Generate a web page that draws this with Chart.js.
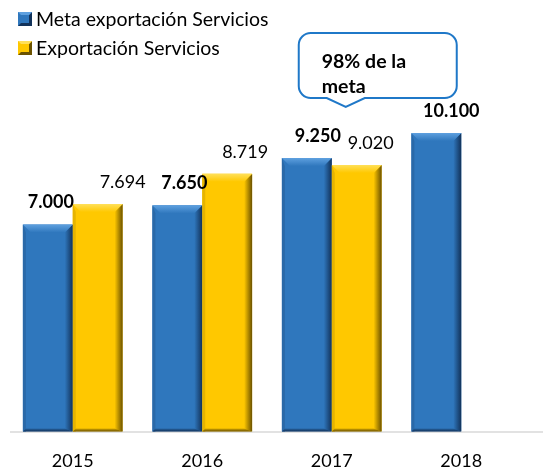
<!DOCTYPE html>
<html>
<head>
<meta charset="utf-8">
<script src="https://cdn.jsdelivr.net/npm/chart.js@4"></script>
<style>
  body { margin: 0; background: #fff; }
  #wrap { width: 543px; height: 470px; }
</style>
</head>
<body>
<div id="wrap"><canvas id="chart" width="543" height="470"></canvas></div>
<script>
// Data
const years = ['2015', '2016', '2017', '2018'];
const metaValues = [7000, 7650, 9250, 10100];
const exportValues = [7694, 8719, 9020, null];
const seriesNames = ['Meta exportación Servicios', 'Exportación Servicios'];
const calloutLines = ['98% de la', 'meta'];

const FONT = 'Lato, "Open Sans", sans-serif';
// horizontal nudge of each value label, as placed in the original
const labelShift = [[3, 7, 11, 15], [25, 18, 14, 0]];

// 7000 -> "7.000"
function fmt(v) {
    return String(v).replace(/\B(?=(\d{3})+(?!\d))/g, '.');
}

const palette = [
    { face: '#2f77bd', light: '#5ea0df', dark: '#12325a', left: '#2a69a8' },
    { face: '#ffc800', light: '#ffe05a', dark: '#6b5200', left: '#e6b400' }
];

// bevel look of the bars
const bevelPlugin = {
    id: 'bevel',
    afterDatasetsDraw(chart) {
        const ctx = chart.ctx;
        chart.data.datasets.forEach((ds, di) => {
            const meta = chart.getDatasetMeta(di);
            const col = palette[di];
            meta.data.forEach((bar, i) => {
                if (ds.data[i] == null) return;
                const w = bar.width;
                const l = bar.x - w / 2, r = bar.x + w / 2;
                const t = bar.y, b = bar.base;
                const bv = 8;
                ctx.save();
                // left edge
                ctx.fillStyle = col.left;
                ctx.beginPath();
                ctx.moveTo(l, t); ctx.lineTo(l + 3, t + bv); ctx.lineTo(l + 3, b); ctx.lineTo(l, b);
                ctx.fill();
                // right edge
                let g = ctx.createLinearGradient(r - bv, 0, r, 0);
                g.addColorStop(0, col.face);
                g.addColorStop(1, col.dark);
                ctx.fillStyle = g;
                ctx.beginPath();
                ctx.moveTo(r, t); ctx.lineTo(r, b); ctx.lineTo(r - bv, b - 2); ctx.lineTo(r - bv, t + bv);
                ctx.fill();
                // bottom edge
                g = ctx.createLinearGradient(0, b - 4, 0, b);
                g.addColorStop(0, col.face);
                g.addColorStop(1, col.dark);
                ctx.fillStyle = g;
                ctx.beginPath();
                ctx.moveTo(l + 3, b - 3); ctx.lineTo(r - bv, b - 3); ctx.lineTo(r, b); ctx.lineTo(l, b);
                ctx.fill();
                // top bevel
                g = ctx.createLinearGradient(0, t, 0, t + bv);
                g.addColorStop(0, col.light);
                g.addColorStop(1, col.face);
                ctx.fillStyle = g;
                ctx.beginPath();
                ctx.moveTo(l, t); ctx.lineTo(r, t); ctx.lineTo(r - bv, t + bv); ctx.lineTo(l + bv, t + bv);
                ctx.closePath();
                ctx.fill();
                ctx.restore();
            });
        });
    }
};

// value labels above the bars
const valueLabels = {
    id: 'valueLabels',
    afterDatasetsDraw(chart) {
        const ctx = chart.ctx;
        ctx.save();
        ctx.fillStyle = '#000';
        ctx.textAlign = 'center';
        ctx.textBaseline = 'middle';
        chart.data.datasets.forEach((ds, di) => {
            const meta = chart.getDatasetMeta(di);
            ctx.font = (di === 0 ? 'bold ' : '') + '18px ' + FONT;
            meta.data.forEach((bar, i) => {
                if (ds.data[i] == null) return;
                ctx.fillText(fmt(ds.data[i]), bar.x + labelShift[di][i], bar.y - 22);
            });
        });
        ctx.restore();
    }
};

// legend stacked top-left, axis line, callout box
const extras = {
    id: 'extras',
    beforeDatasetsDraw(chart) {
        const ctx = chart.ctx;
        const y0 = chart.scales.y.getPixelForValue(0);
        ctx.save();
        ctx.strokeStyle = '#d9d9d9';
        ctx.lineWidth = 1.5;
        ctx.beginPath();
        ctx.moveTo(10, y0 + 0.5);
        ctx.lineTo(chart.width, y0 + 0.5);
        ctx.stroke();
        ctx.restore();
    },
    afterDraw(chart) {
        const ctx = chart.ctx;
        ctx.save();
        // legend
        ctx.font = '19.5px ' + FONT;
        ctx.textBaseline = 'middle';
        ctx.textAlign = 'left';
        seriesNames.forEach((name, k) => {
            const cy = 19 + k * 29;
            const col = palette[k];
            ctx.fillStyle = col.face;
            ctx.fillRect(18, cy - 7, 14, 14);
            ctx.fillStyle = col.dark;
            ctx.beginPath();
            ctx.moveTo(32, cy - 7); ctx.lineTo(32, cy + 7); ctx.lineTo(18, cy + 7); ctx.lineTo(21, cy + 4); ctx.lineTo(29, cy + 4); ctx.lineTo(29, cy - 4);
            ctx.fill();
            ctx.fillStyle = col.light;
            ctx.beginPath();
            ctx.moveTo(18, cy - 7); ctx.lineTo(32, cy - 7); ctx.lineTo(29, cy - 4); ctx.lineTo(21, cy - 4);
            ctx.fill();
            ctx.fillStyle = '#000';
            ctx.fillText(name, 36, cy + 1);
        });

        // callout pointing at 2017
        const cx = chart.scales.x.getPixelForValue(2);
        const left = cx - 33, right = cx + 125, top = 33, bottom = 98, rad = 12;
        const tipX = cx + 14, tipY = 107;
        ctx.strokeStyle = '#1f78c8';
        ctx.lineWidth = 2;
        ctx.fillStyle = '#fff';
        ctx.beginPath();
        ctx.moveTo(left + rad, top);
        ctx.lineTo(right - rad, top);
        ctx.arcTo(right, top, right, top + rad, rad);
        ctx.lineTo(right, bottom - rad);
        ctx.arcTo(right, bottom, right - rad, bottom, rad);
        ctx.lineTo(tipX + 19, bottom);
        ctx.lineTo(tipX, tipY);
        ctx.lineTo(tipX - 19, bottom);
        ctx.lineTo(left + rad, bottom);
        ctx.arcTo(left, bottom, left, bottom - rad, rad);
        ctx.lineTo(left, top + rad);
        ctx.arcTo(left, top, left + rad, top, rad);
        ctx.closePath();
        ctx.fill();
        ctx.stroke();
        ctx.fillStyle = '#000';
        ctx.font = 'bold 19.5px ' + FONT;
        ctx.fillText(calloutLines[0], left + 23, 62);
        ctx.fillText(calloutLines[1], left + 23, 87);
        ctx.restore();
    }
};

new Chart(document.getElementById('chart'), {
    type: 'bar',
    data: {
        labels: years,
        datasets: [
            { label: seriesNames[0], data: metaValues, backgroundColor: palette[0].face },
            { label: seriesNames[1], data: exportValues, backgroundColor: palette[1].face }
        ]
    },
    options: {
        responsive: false,
        animation: false,
        layout: { padding: { left: 8, right: 17, top: 0, bottom: -21 } },
        plugins: { legend: { display: false }, tooltip: { enabled: false } },
        datasets: { bar: { categoryPercentage: 0.77, barPercentage: 1 } },
        scales: {
            x: {
                grid: { display: false, drawTicks: false },
                border: { display: false },
                ticks: { color: '#000', font: { family: FONT, size: 18 }, padding: 19 }
            },
            y: { display: false, min: 0, max: 14600 }
        }
    },
    plugins: [bevelPlugin, valueLabels, extras]
});
</script>
</body>
</html>
